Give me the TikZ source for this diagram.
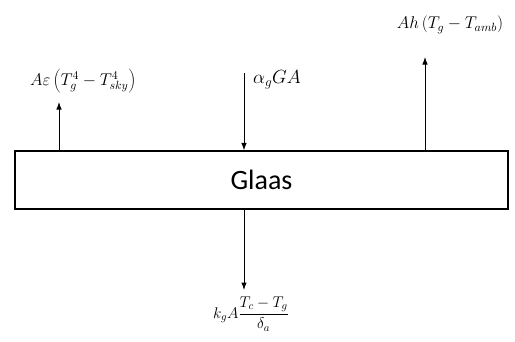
\RequirePackage{fix-cm}
\documentclass[tikz,border=0pt]{standalone}
\usepackage{fontspec}
\setsansfont{Carlito}
\usetikzlibrary{positioning, arrows.meta}

\begin{document}
\begin{tikzpicture}[
    x=1pt, y=-1pt,
    >=Latex,
    flux/.style={->, line width=1pt},
    slab/.style={
        draw,
        line width=1.2pt,
        minimum width=493pt,
        minimum height=58pt,
        font=\sffamily\fontsize{28}{32}\selectfont
    },
    term/.style={font=\fontsize{17}{20}\selectfont, inner sep=1pt}
]
\useasboundingbox (0,0) rectangle (515,341);

\node[slab] (glass) at (261.5,180) {Glaas};

% radiation to sky (left)
\coordinate (skytop) at (59,102);
\draw[flux] (glass.north -| skytop) -- (skytop);
\node[term] (rad) at (83,81) {$A\varepsilon\left(T_g^4-T_{sky}^4\right)$};

% solar absorption (middle)
\coordinate (suntop) at (244,73);
\draw[flux] (suntop) -- (glass.north -| suntop);
\node[term, anchor=west, font=\fontsize{19}{22}\selectfont] (sun) at (252,80) {$\alpha_g GA$};

% convection (right)
\coordinate (convtop) at (425,57);
\draw[flux] (glass.north -| convtop) -- (convtop);
\node[term] (conv) at (450,25) {$Ah\left(T_g-T_{amb}\right)$};

% conduction (bottom)
\coordinate (condbot) at (244,290);
\draw[flux] (glass.south -| condbot) -- (condbot);
\node[term, font=\fontsize{15.5}{18}\selectfont] (cond) at (251,314) {$\displaystyle k_gA\frac{T_c-T_g}{\delta_a}$};

\end{tikzpicture}
\end{document}
